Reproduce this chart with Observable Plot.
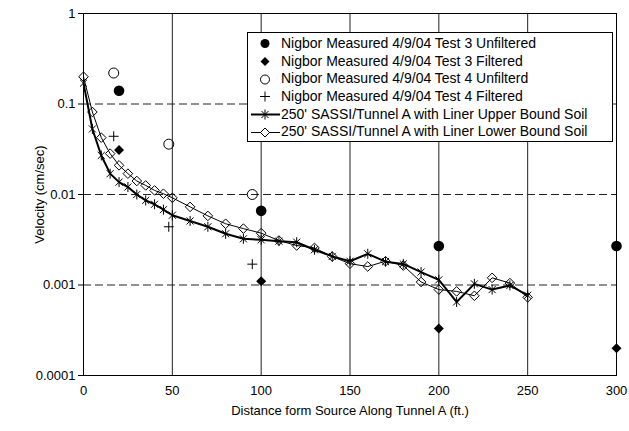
<!DOCTYPE html>
<html>
<head>
<meta charset="utf-8">
<script src="https://cdn.jsdelivr.net/npm/d3@7"></script>
<script src="https://cdn.jsdelivr.net/npm/@observablehq/plot@0.6"></script>
<style>
  body { margin: 0; background: #fff; }
  #wrap { position: relative; width: 629px; height: 431px; font-family: "Liberation Sans", Arial, sans-serif; }
  #legend { position: absolute; left: 247px; top: 32px; width: 364px; height: 106px; border: 1px solid #000; background: #fff; padding-top: 2px; font-size: 14px; }
  .row { height: 17.7px; line-height: 17.7px; display: flex; align-items: center; white-space: nowrap; }
  .row svg { width: 33px; height: 17px; flex: none; }
</style>
</head>
<body>
<div id="wrap"><div id="legend"></div></div>
<script>
// ---- data ----
const modelX = [0,5,10,15,20,25,30,35,40,45,50,60,70,80,90,100,110,120,130,140,150,160,170,180,190,200,210,220,230,240,250];
const upperBound = [0.17,0.053,0.027,0.017,0.0137,0.0121,0.010,0.0086,0.0078,0.0068,0.0059,0.0051,0.0044,0.00368,0.00324,0.00316,0.00305,0.00297,0.00245,0.00207,0.00183,0.00221,0.00181,0.00171,0.00139,0.00114,0.00065,0.00103,0.00089,0.00099,0.00077];
const lowerBound = [0.2,0.0816,0.0425,0.0283,0.021,0.017,0.0141,0.0126,0.0111,0.0102,0.0092,0.0073,0.0058,0.00475,0.0042,0.00374,0.0031,0.00273,0.00257,0.00206,0.00172,0.0016,0.00183,0.00164,0.00108,0.00089,0.00085,0.00076,0.0012,0.00105,0.00073];
const test3X = [20,100,200,300];
const test3Unfiltered = [0.14,0.0066,0.0027,0.0027];
const test3Filtered = [0.031,0.0011,0.00033,0.0002];
const test4X = [17,48,95];
const test4Unfiltered = [0.22,0.036,0.01];
const test4Filtered = [0.044,0.0044,0.0017];
const xTicks = [0,50,100,150,200,250,300];
const xGrid = [50,100,150,200,250];
const yTicks = [0.0001,0.001,0.01,0.1,1];
const yTickLabels = ["0.0001","0.001","0.01","0.1","1"];
const yGrid = [0.001,0.01,0.1];
const seriesNames = [
  "Nigbor Measured 4/9/04 Test 3 Unfiltered",
  "Nigbor Measured 4/9/04 Test 3 Filtered",
  "Nigbor Measured 4/9/04 Test 4 Unfilterd",
  "Nigbor Measured 4/9/04 Test 4 Filtered",
  "250' SASSI/Tunnel A with Liner Upper Bound Soil",
  "250' SASSI/Tunnel A with Liner Lower Bound Soil"
];

// ---- symbols ----
const starSym = {draw(c, s){const r=Math.sqrt(s/Math.PI), d=r*0.7071; c.moveTo(0,-r);c.lineTo(0,r);c.moveTo(-d,-d);c.lineTo(d,d);c.moveTo(-d,d);c.lineTo(d,-d);}};
const plusSym = {draw(c, s){const r=Math.sqrt(s/Math.PI); c.moveTo(-r,0);c.lineTo(r,0);c.moveTo(0,-r);c.lineTo(0,r);}};
const diamondSym = {draw(c, s){const r=Math.sqrt(s/Math.PI); c.moveTo(0,-r);c.lineTo(r,0);c.lineTo(0,r);c.lineTo(-r,0);c.closePath();}};

const model = modelX.map((x,i)=>({x, up: upperBound[i], lo: lowerBound[i]}));
const t3 = test3X.map((x,i)=>({x, u: test3Unfiltered[i], f: test3Filtered[i]}));
const t4 = test4X.map((x,i)=>({x, u: test4Unfiltered[i], f: test4Filtered[i]}));

const chart = Plot.plot({
  width: 629, height: 431,
  marginLeft: 83, marginRight: 13, marginTop: 13, marginBottom: 56,
  style: {fontFamily: '"Liberation Sans", Arial, sans-serif', fontSize: "13px", color: "#000", background: "transparent"},
  x: {domain: [0,300]},
  y: {type: "log", domain: [0.0001, 1]},
  marks: [
    Plot.ruleX(xGrid, {stroke: "#222", strokeWidth: 1}),
    Plot.ruleY(yGrid, {stroke: "#222", strokeDasharray: "8,4"}),
    Plot.frame({stroke: "#000"}),
    Plot.axisY({ticks: yTicks, tickFormat: (d) => yTickLabels[yTicks.indexOf(d)], tickSize: 5, tickPadding: 3, label: "Velocity (cm/sec)", labelAnchor: "center", labelOffset: 49, labelArrow: "none"}),
    Plot.axisX({ticks: xTicks, tickSize: 0, tickPadding: 10, label: "Distance form Source Along Tunnel A (ft.)", labelAnchor: "center", labelOffset: 39, labelArrow: "none"}),
    Plot.line(model, {x: "x", y: "up", stroke: "#000", strokeWidth: 2}),
    Plot.dot(model, {x: "x", y: "up", symbol: starSym, r: 5, stroke: "#000", fill: "none", strokeWidth: 1}),
    Plot.line(model, {x: "x", y: "lo", stroke: "#000", strokeWidth: 1}),
    Plot.dot(model, {x: "x", y: "lo", symbol: diamondSym, r: 4.8, stroke: "#000", fill: "none", strokeWidth: 1}),
    Plot.dot(t3, {x: "x", y: "u", symbol: "circle", r: 5.3, fill: "#000", stroke: "none"}),
    Plot.dot(t3, {x: "x", y: "f", symbol: diamondSym, r: 5, fill: "#000", stroke: "none"}),
    Plot.dot(t4, {x: "x", y: "u", symbol: "circle", r: 5, fill: "none", stroke: "#000", strokeWidth: 1}),
    Plot.dot(t4, {x: "x", y: "f", symbol: plusSym, r: 5, fill: "none", stroke: "#000", strokeWidth: 1})
  ]
});
document.getElementById("wrap").prepend(chart);

// ---- legend ----
const icons = [
  '<circle cx="17" cy="8.5" r="4.5" fill="#000"/>',
  '<path d="M17,4 L21.5,8.5 L17,13 L12.5,8.5Z" fill="#000"/>',
  '<circle cx="17" cy="8.5" r="4.5" fill="none" stroke="#000"/>',
  '<path d="M12,8.5 H22 M17,3.5 V13.5" stroke="#000" fill="none"/>',
  '<path d="M3,8.5 H32" stroke="#000" stroke-width="2"/><path d="M17,3.5 V13.5 M13.5,5 L20.5,12 M13.5,12 L20.5,5" stroke="#000" fill="none"/>',
  '<path d="M3,8.5 H32" stroke="#000" stroke-width="1"/><path d="M17,4 L21.5,8.5 L17,13 L12.5,8.5Z" stroke="#000" fill="#fff"/>'
];
const leg = document.getElementById("legend");
seriesNames.forEach((name, i) => {
  const row = document.createElement("div");
  row.className = "row";
  row.innerHTML = `<svg viewBox="0 0 33 17">${icons[i]}</svg><span>${name}</span>`;
  leg.appendChild(row);
});
</script>
</body>
</html>
